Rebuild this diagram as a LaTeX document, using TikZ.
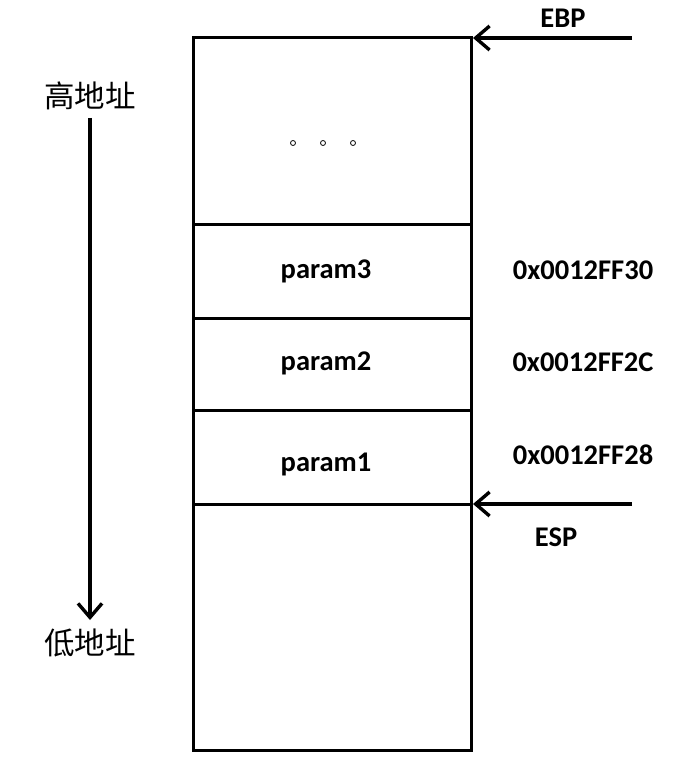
\documentclass[tikz,border=0pt]{standalone}
\usepackage{fontspec}
\setmainfont{Carlito}
\newfontfamily\cjk{Noto Sans CJK SC}
\usetikzlibrary{arrows.meta}
\begin{document}
\begin{tikzpicture}[x=1pt,y=-1pt,
  boxline/.style={line width=3pt},
  ptr/.style={line width=3.4pt,-{Straight Barb[length=14pt,width=24pt,line width=3.4pt]}},
  lbl/.style={font=\fontsize{28.5}{32}\selectfont\bfseries, inner sep=0pt},
  cjklbl/.style={font=\cjk\fontsize{30.5}{34}\selectfont, inner sep=0pt}]
\useasboundingbox (0,0) rectangle (689,775);
\draw[boxline] (193,38) rectangle (471,750);
\coordinate (d1l) at (193,225); \coordinate (d1r) at (471,225);
\coordinate (d2l) at (193,318); \coordinate (d2r) at (471,318);
\coordinate (d3l) at (193,410); \coordinate (d3r) at (471,410);
\coordinate (d4l) at (193,504); \coordinate (d4r) at (471,504);
\draw[boxline] (d1l) -- (d1r);
\draw[boxline] (d2l) -- (d2r);
\draw[boxline] (d3l) -- (d3r);
\draw[boxline] (d4l) -- (d4r);
\foreach \xx/\nm in {293/a,323/b,353/c} \node[circle,draw,line width=0.8pt,inner sep=0pt,minimum size=5pt] (dot\nm) at (\xx,143) {};
\node[lbl] (p3) at (326,271) {param3};
\node[lbl] (p2) at (326,363) {param2};
\node[lbl] (p1) at (326,464) {param1};
\node[lbl] (a3) at (583,270) {0x0012FF30};
\node[lbl] (a2) at (583,362) {0x0012FF2C};
\node[lbl] (a1) at (583,455) {0x0012FF28};
\node[lbl] (ebp) at (563,18) {EBP};
\node[lbl] (esp) at (556,537) {ESP};
\coordinate (ebps) at (632,38); \coordinate (ebpe) at (473,38);
\coordinate (esps) at (632,504); \coordinate (espe) at (473,504);
\draw[ptr] (ebps) -- (ebpe);
\draw[ptr] (esps) -- (espe);
\node[cjklbl] (hi) at (90,96) {高地址};
\node[cjklbl] (lo) at (90,643) {低地址};
\draw[ptr] (hi.south |- 0,118) -- (90,620);
\end{tikzpicture}
\end{document}
